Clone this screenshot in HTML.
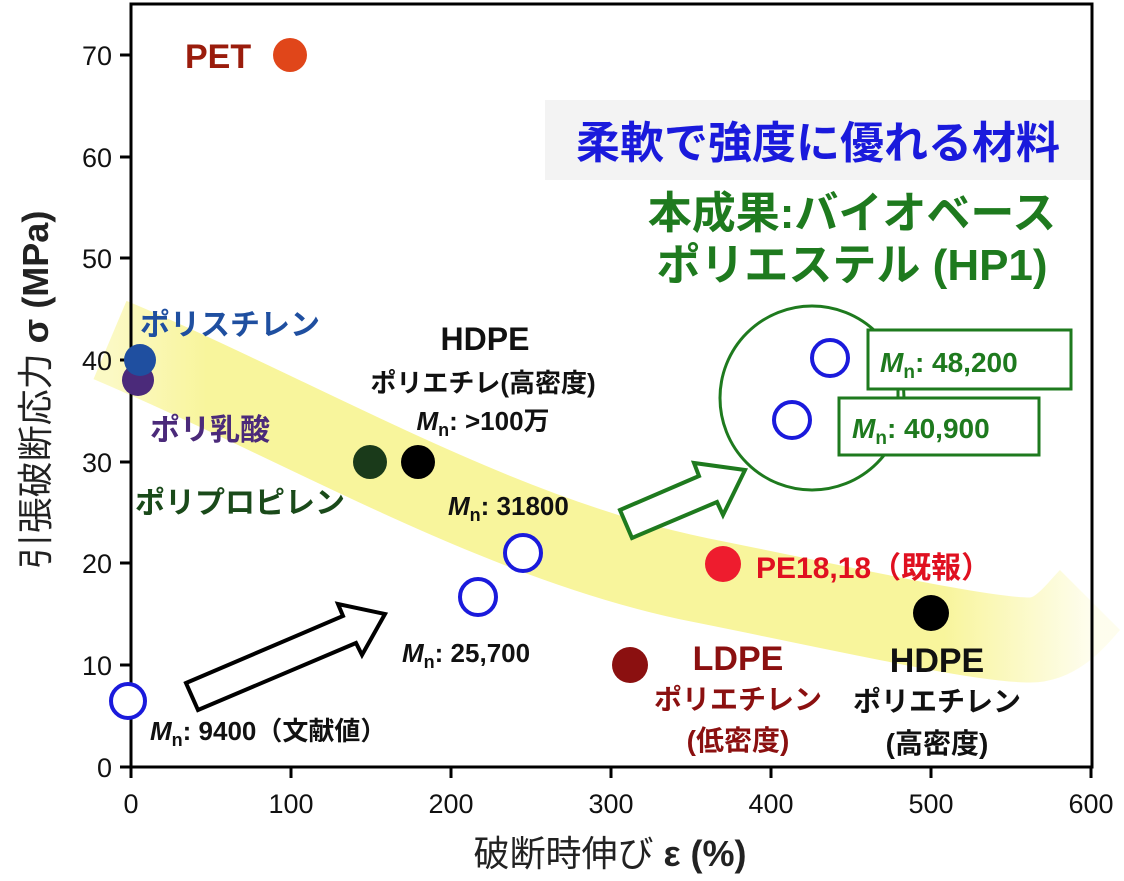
<!DOCTYPE html><html><head><meta charset="utf-8"><style>body{margin:0;background:#fff}svg{display:block}text{font-family:"Liberation Sans","Noto Sans CJK JP",sans-serif}</style></head><body>
<svg width="1124" height="881" viewBox="0 0 1124 881">
<defs><linearGradient id="g" x1="0" x2="1"><stop offset="0" stop-color="#f7f38a" stop-opacity="0.5"/><stop offset="0.1" stop-color="#f7f38a" stop-opacity="0.85"/><stop offset="0.85" stop-color="#f7f38a" stop-opacity="0.85"/><stop offset="1" stop-color="#f7f38a" stop-opacity="0.15"/></linearGradient></defs>
<path d="M110,340 C300,420 500,540 700,580 C850,610 980,640 1030,640 C1060,640 1080,610 1090,600" fill="none" stroke="url(#g)" stroke-width="85"/>
<rect x="545" y="100" width="546" height="80" fill="#f3f3f3"/>
<text x="818" y="158" text-anchor="middle" font-size="44" font-weight="bold" fill="#1a1adc">柔軟で強度に優れる材料</text>
<text x="852" y="228" text-anchor="middle" font-size="44" font-weight="bold" fill="#1e7a1e">本成果:バイオベース</text>
<text x="852" y="280" text-anchor="middle" font-size="44" font-weight="bold" fill="#1e7a1e">ポリエステル (HP1)</text>
<rect x="131" y="4" width="961" height="763" fill="none" stroke="#000" stroke-width="3"/>
<g stroke="#000" stroke-width="3">
<line x1="120" y1="767" x2="131" y2="767"/><line x1="120" y1="665" x2="131" y2="665"/><line x1="120" y1="563" x2="131" y2="563"/><line x1="120" y1="462" x2="131" y2="462"/><line x1="120" y1="360" x2="131" y2="360"/><line x1="120" y1="258" x2="131" y2="258"/><line x1="120" y1="157" x2="131" y2="157"/><line x1="120" y1="55" x2="131" y2="55"/>
<line x1="131" y1="767" x2="131" y2="778"/><line x1="291" y1="767" x2="291" y2="778"/><line x1="451" y1="767" x2="451" y2="778"/><line x1="611" y1="767" x2="611" y2="778"/><line x1="771" y1="767" x2="771" y2="778"/><line x1="931" y1="767" x2="931" y2="778"/><line x1="1091" y1="767" x2="1091" y2="778"/>
</g>
<g font-size="27" fill="#111" text-anchor="end">
<text x="112" y="777">0</text><text x="112" y="675">10</text><text x="112" y="573">20</text><text x="112" y="472">30</text><text x="112" y="370">40</text><text x="112" y="268">50</text><text x="112" y="167">60</text><text x="112" y="65">70</text></g>
<g font-size="27" fill="#111" text-anchor="middle">
<text x="131" y="813">0</text><text x="291" y="813">100</text><text x="451" y="813">200</text><text x="611" y="813">300</text><text x="771" y="813">400</text><text x="931" y="813">500</text><text x="1091" y="813">600</text></g>
<text x="610" y="866" text-anchor="middle" font-size="36" fill="#222">破断時伸び <tspan font-weight="bold">ε (%)</tspan></text>
<text transform="translate(48,390) rotate(-90)" text-anchor="middle" font-size="36" fill="#222">引張破断応力 <tspan font-weight="bold">σ (MPa)</tspan></text>
<circle cx="290" cy="55" r="17" fill="#e0461a"/>
<text x="185" y="68" font-size="34" font-weight="bold" fill="#9a1c0c">PET</text>
<circle cx="138" cy="380" r="16" fill="#4b2a7a"/>
<circle cx="140" cy="360" r="16" fill="#1f4fa0"/>
<text x="140" y="335" font-size="30" font-weight="bold" fill="#1f4fa0">ポリスチレン</text>
<text x="150" y="440" font-size="30" font-weight="bold" fill="#4b2a7a">ポリ乳酸</text>
<circle cx="370" cy="462" r="17" fill="#1a3a1a"/>
<circle cx="418" cy="462" r="17" fill="#000"/>
<text x="135" y="513" font-size="30" font-weight="bold" fill="#1a4a1a">ポリプロピレン</text>
<g font-weight="bold" fill="#111" text-anchor="middle">
<text x="485" y="350" font-size="32">HDPE</text>
<text x="483" y="392" font-size="26">ポリエチレ(高密度)</text>
<text x="483" y="430" font-size="26"><tspan font-style="italic">M</tspan><tspan font-size="18" dy="6">n</tspan><tspan dy="-6">: &gt;100万</tspan></text>
</g>
<text x="448" y="515" font-size="26" font-weight="bold" fill="#111"><tspan font-style="italic">M</tspan><tspan font-size="18" dy="6">n</tspan><tspan dy="-6">: 31800</tspan></text>
<text x="402" y="662" font-size="26" font-weight="bold" fill="#111"><tspan font-style="italic">M</tspan><tspan font-size="18" dy="6">n</tspan><tspan dy="-6">: 25,700</tspan></text>
<text x="150" y="740" font-size="26" font-weight="bold" fill="#111"><tspan font-style="italic">M</tspan><tspan font-size="18" dy="6">n</tspan><tspan dy="-6">: 9400（文献値）</tspan></text>
<g fill="#fff" stroke="#1a1adc" stroke-width="4">
<circle cx="128" cy="701" r="17"/><circle cx="478" cy="597" r="18"/><circle cx="523" cy="553" r="18"/><circle cx="792" cy="420" r="18"/><circle cx="830" cy="358" r="18"/></g>
<circle cx="812" cy="398" r="92" fill="none" stroke="#1e7a1e" stroke-width="3"/>
<line x1="898" y1="388" x2="898" y2="398" stroke="#1e7a1e" stroke-width="3"/>
<rect x="868" y="330" width="203" height="59" fill="#fff" stroke="#1e7a1e" stroke-width="3"/>
<rect x="839" y="398" width="200" height="57" fill="#fff" stroke="#1e7a1e" stroke-width="3"/>
<text x="880" y="372" font-size="28" font-weight="bold" fill="#1e7a1e"><tspan font-style="italic">M</tspan><tspan font-size="19" dy="6">n</tspan><tspan dy="-6">: 48,200</tspan></text>
<text x="852" y="438" font-size="28" font-weight="bold" fill="#1e7a1e"><tspan font-style="italic">M</tspan><tspan font-size="19" dy="6">n</tspan><tspan dy="-6">: 40,900</tspan></text>
<polygon points="186,683 343,616 338,604 385,614 362,655 356,643 198,710" fill="#fff" stroke="#000" stroke-width="4"/>
<polygon points="620,510 699,476 694,463 745,470 723,515 717,502 632,538" fill="#fff" stroke="#1e7a1e" stroke-width="4"/>
<circle cx="723" cy="564" r="18" fill="#ee1c2e"/>
<text x="756" y="578" font-size="30" font-weight="bold" fill="#e01020">PE18,18（既報）</text>
<circle cx="630" cy="665" r="18" fill="#8b1010"/>
<circle cx="931" cy="613" r="18" fill="#000"/>
<g font-weight="bold" text-anchor="middle">
<text x="738" y="670" font-size="34" fill="#8b1010">LDPE</text>
<text x="738" y="709" font-size="28" fill="#8b1010">ポリエチレン</text>
<text x="738" y="750" font-size="28" fill="#8b1010">(低密度)</text>
<text x="937" y="672" font-size="34" fill="#111">HDPE</text>
<text x="937" y="711" font-size="28" fill="#111">ポリエチレン</text>
<text x="937" y="753" font-size="28" fill="#111">(高密度)</text>
</g>
</svg></body></html>
